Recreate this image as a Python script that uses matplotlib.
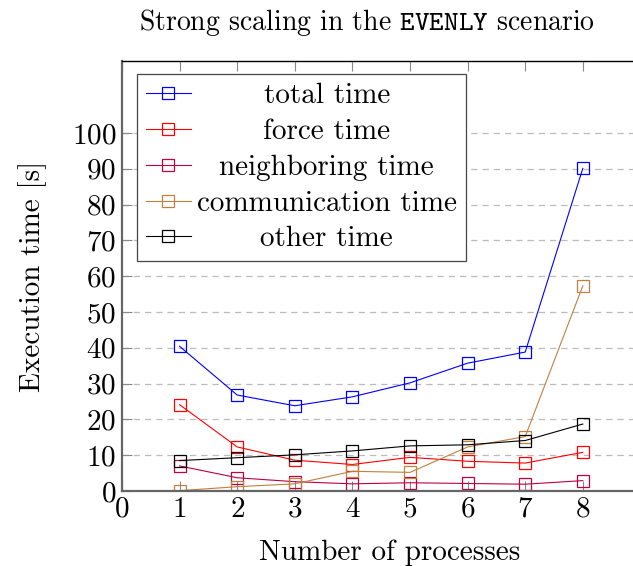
import matplotlib
matplotlib.use('Agg')
import matplotlib.pyplot as plt

plt.rcParams['font.family'] = 'cmr10'
plt.rcParams['mathtext.fontset'] = 'cm'
plt.rcParams['axes.formatter.use_mathtext'] = True

# processes and timings in seconds
procs = [1, 2, 3, 4, 5, 6, 7, 8]
total_time = [40.4, 26.8, 23.8, 26.3, 30.2, 35.7, 38.8, 90.1]
force_time = [24.1, 12.3, 8.6, 7.4, 9.4, 8.3, 7.8, 10.8]
neighboring_time = [7.0, 3.7, 2.6, 2.0, 2.3, 2.1, 1.9, 2.9]
communication_time = [0.1, 1.2, 2.0, 5.5, 5.2, 12.3, 15.2, 57.3]
other_time = [8.5, 9.3, 10.1, 11.2, 12.6, 12.9, 14.1, 18.7]

labels = ['total time', 'force time', 'neighboring time', 'communication time', 'other time']
colors = ['#0000ff', '#ff0000', '#bf0040', '#bf8040', '#000000']
series = [total_time, force_time, neighboring_time, communication_time, other_time]

fs = 21

fig = plt.figure(figsize=(6.33, 5.66), dpi=100)
ax = fig.add_axes([122/633, 75/566, 535.7/633, 429.7/566])

for vals, lab, c in zip(series, labels, colors):
    ax.plot(procs, vals, color=c, lw=0.8, marker='s', markersize=8,
            markerfacecolor='none', markeredgewidth=0.9, label=lab)

ax.set_xlim(0, 9.3)
ax.set_ylim(0, 120)
ax.set_xticks(range(0, 9))
ax.set_yticks(range(0, 101, 10))
ax.tick_params(labelsize=fs, direction='in', length=7, width=0.8, color='#888888',
               top=True, right=True, pad=4)

# dashed horizontal grid
for y in range(10, 101, 10):
    ax.axhline(y, color='#bbbbbb', lw=0.9, dashes=(5, 4), zorder=0)

ax.spines['left'].set_color('#666666')
ax.spines['left'].set_linewidth(1.6)
ax.spines['bottom'].set_color('#666666')
ax.spines['bottom'].set_linewidth(1.6)
ax.spines['top'].set_linewidth(1.0)
ax.spines['right'].set_linewidth(1.0)

ax.set_xlabel('Number of processes', fontsize=fs, labelpad=12)
ax.set_ylabel('Execution time [s]', fontsize=fs, labelpad=18)

fig.text(367/633, 1 - 22/566, r'Strong scaling in the $\mathtt{EVENLY}$ scenario',
         fontsize=20, ha='center', va='center')

leg = ax.legend(loc='upper left', bbox_to_anchor=(15/535.7, 1 - 13/429.7),
                fontsize=fs, frameon=True, fancybox=False, edgecolor='#444444',
                framealpha=1, borderaxespad=0, handlelength=1.55, handletextpad=0.2,
                labelspacing=0.32, borderpad=0.3)
leg.get_frame().set_linewidth(0.9)

# center legend labels like pgfplots does
fig.canvas.draw()
r = fig.canvas.get_renderer()
texts = leg.get_texts()
ws = [t.get_window_extent(r).width for t in texts]
for t, w in zip(texts, ws):
    t.set_position(((max(ws) - w) / 2, 0))

fig.savefig('out.png', dpi=100)
